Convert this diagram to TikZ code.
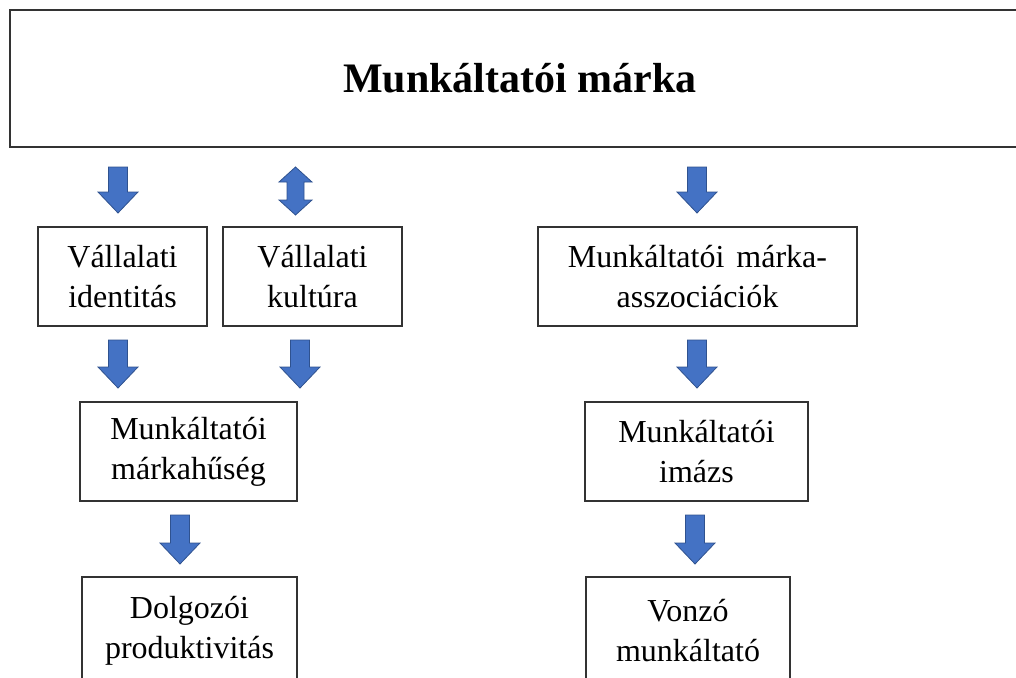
\documentclass[tikz,border=0pt]{standalone}
\usepackage{fontspec}
\setmainfont{Liberation Serif}
\definecolor{boxline}{HTML}{333333}
\definecolor{arrowfill}{HTML}{4472C4}
\definecolor{arrowedge}{HTML}{2F528F}
\tikzset{
  box/.style={draw=boxline, line width=1.7pt, fill=white, rectangle, inner sep=0pt,
    align=center, font=\fontsize{32}{40}\selectfont},
  titlebox/.style={draw=boxline, line width=1.7pt, rectangle, inner sep=0pt,
    font=\fontsize{42}{50}\selectfont\bfseries},
  blk/.style={fill=arrowfill, draw=arrowedge, line width=0.8pt, line join=miter}
}
% downward block arrow: centre x, top y, tip y
\newcommand\blkdown[3]{%
  \filldraw[blk] (#1-9.5,#2) -- (#1+9.5,#2) -- (#1+9.5,#3-21) -- (#1+20,#3-21)
    -- (#1,#3) -- (#1-20,#3-21) -- (#1-9.5,#3-21) -- cycle;}
% two-headed block arrow: centre x, top tip y, bottom tip y
\newcommand\blkboth[3]{%
  \filldraw[blk] (#1,#2) -- (#1+16.5,#2+15) -- (#1+8.5,#2+15) -- (#1+8.5,#3-15)
    -- (#1+16.5,#3-15) -- (#1,#3) -- (#1-16.5,#3-15) -- (#1-8.5,#3-15)
    -- (#1-8.5,#2+15) -- (#1-16.5,#2+15) -- cycle;}
\begin{document}
\begin{tikzpicture}[x=1pt,y=-1pt]
  \useasboundingbox (0,0) rectangle (1016,677);
  \clip (0,0) rectangle (1016,677);

  % heading
  \node[titlebox, minimum width=1020pt, minimum height=137pt] (title) at (520,78.5) {Munkáltatói márka};

  % left branch
  \node[box, minimum width=169pt, minimum height=99pt] (ident) at (122.5,276.5) {Vállalati\\identitás};
  \node[box, minimum width=179pt, minimum height=99pt] (kult) at (312.5,276.5) {Vállalati\\kultúra};
  \node[box, minimum width=217pt, minimum height=99pt] (huseg) at (188.5,451.5) {Munkáltatói\\márkahűség};
  \node[box, minimum width=215pt, minimum height=107pt] (prod) at (189.5,630.5) {Dolgozói\\produktivitás};

  % right branch
  \node[box, minimum width=319pt, minimum height=99pt] (assz) at (697.5,276.5) {Munkáltatói\hspace{4pt} márka-\\asszociációk};
  \node[box, minimum width=223pt, minimum height=99pt] (imazs) at (696.5,451.5) {Munkáltatói\\imázs};
  \node[box, minimum width=204pt, minimum height=107pt] (vonzo) at (688,630.5) {Vonzó\\munkáltató};

  % block arrows between the levels
  \blkdown{118}{167}{213}
  \blkboth{295.5}{167}{215}
  \blkdown{697}{167}{213}
  \blkdown{118}{340}{388}
  \blkdown{300}{340}{388}
  \blkdown{697}{340}{388}
  \blkdown{180}{515}{564}
  \blkdown{695}{515}{564}
\end{tikzpicture}
\end{document}
